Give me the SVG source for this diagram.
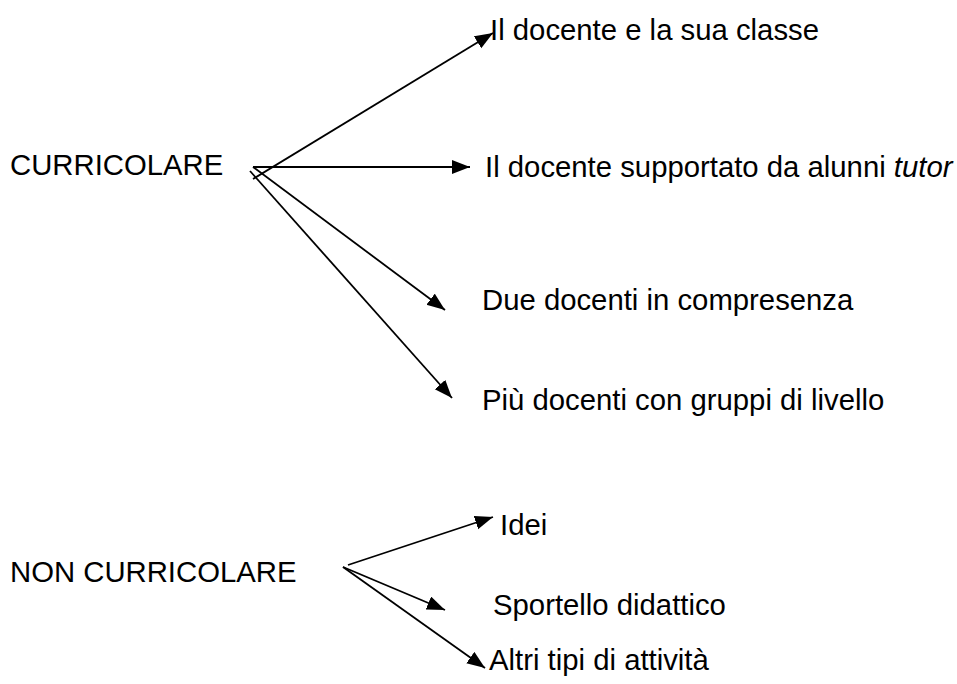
<svg xmlns="http://www.w3.org/2000/svg" width="957" height="684" viewBox="0 0 957 684">
<style>
text{font-family:"Liberation Sans",Arial,sans-serif;font-size:29.3px;fill:#000}
.c line{stroke:#000;stroke-width:1.8;marker-end:url(#ah)}
</style>
<defs>
<marker id="ah" markerUnits="userSpaceOnUse" markerWidth="19" markerHeight="15" refX="18" refY="7" orient="auto">
<path d="M0,0 L18,7 L0,14 z" fill="#000"/>
</marker>
</defs>
<rect width="957" height="684" fill="#fff"/>
<g id="curricolare"><text x="10" y="175">CURRICOLARE</text></g>
<g id="docente-classe"><text x="490" y="40">Il docente e la sua classe</text></g>
<g id="docente-tutor"><text x="485" y="177">Il docente supportato da alunni <tspan font-style="italic">tutor</tspan></text></g>
<g id="due-docenti"><text x="482" y="310">Due docenti in compresenza</text></g>
<g id="piu-docenti"><text x="482" y="410">Più docenti con gruppi di livello</text></g>
<g id="non-curricolare"><text x="10" y="582">NON CURRICOLARE</text></g>
<g id="idei"><text x="500" y="535">Idei</text></g>
<g id="sportello"><text x="493" y="615">Sportello didattico</text></g>
<g id="altri"><text x="489" y="670">Altri tipi di attività</text></g>
<g class="c" id="connectors">
<line x1="253" y1="179" x2="493" y2="33"/>
<line x1="253" y1="167" x2="470" y2="167"/>
<line x1="253" y1="167" x2="445" y2="310"/>
<line x1="250" y1="171" x2="452" y2="398"/>
<line x1="348" y1="565" x2="493" y2="517"/>
<line x1="343" y1="567" x2="445" y2="610"/>
<line x1="343" y1="567" x2="485" y2="668"/>
</g>
</svg>
